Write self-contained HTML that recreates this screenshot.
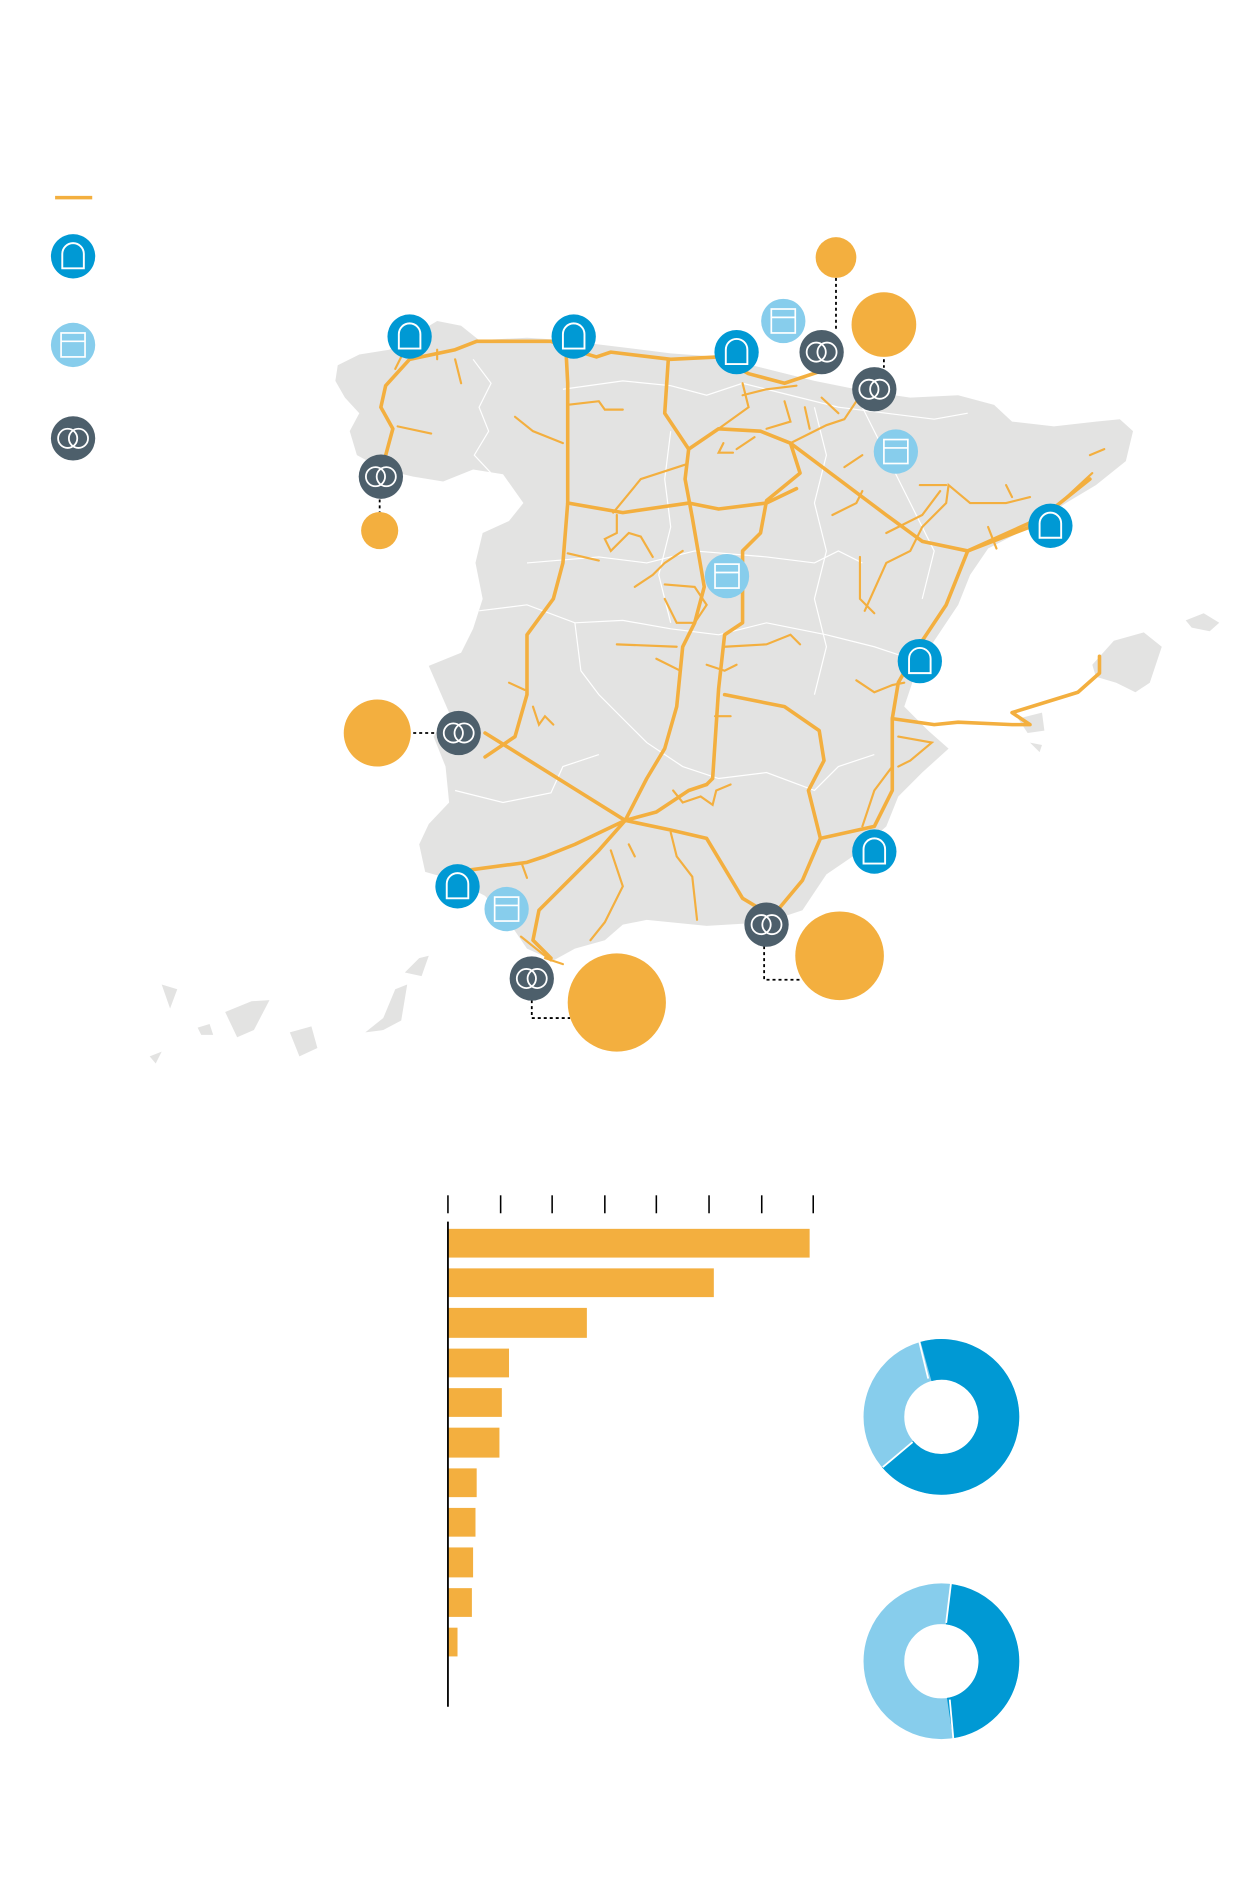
<!DOCTYPE html>
<html><head><meta charset="utf-8"><style>html,body{margin:0;padding:0;background:#fff}svg{display:block}</style></head>
<body>
<svg width="1248" height="1878" viewBox="0 0 1042 1568" preserveAspectRatio="none" xmlns="http://www.w3.org/2000/svg">
<defs>
<g id="arch"><path d="M-9,10 V-2 A9,9 0 0 1 9,-2 V10 Z" fill="none" stroke="#fff" stroke-width="1.6"/></g>
<g id="box"><rect x="-10" y="-10" width="20" height="20" fill="none" stroke="#fff" stroke-width="1.4"/><line x1="-10" y1="-3" x2="10" y2="-3" stroke="#fff" stroke-width="1.4"/></g>
<g id="rings"><circle cx="-4.5" cy="0" r="8" fill="none" stroke="#fff" stroke-width="1.5"/><circle cx="4.5" cy="0" r="8" fill="none" stroke="#fff" stroke-width="1.5"/></g>
</defs>
<line x1="46" y1="165" x2="77" y2="165" stroke="#f3af3f" stroke-width="3"/>
<circle cx="61" cy="214" r="18.5" fill="#0099d4"/><use href="#arch" x="61" y="214"/>
<circle cx="61" cy="288" r="18.5" fill="#87cdec"/><use href="#box" x="61" y="288"/>
<circle cx="61" cy="366" r="18.5" fill="#4d5f6b"/><use href="#rings" x="61" y="366"/>

<path fill="#e3e3e2" d="M282,305 L300,296 L325,292 L345,280 L365,268 L385,272 L400,284 L440,282 L470,284 L520,290 L560,295 L600,298 L640,308 L680,318 L720,326 L760,332 L800,330 L830,338 L845,352 L880,356 L915,352 L935,350 L946,360 L940,385 L915,405 L890,420 L860,440 L825,458 L810,480 L800,505 L780,535 L765,560 L755,590 L775,610 L792,625 L770,645 L750,665 L740,690 L712,715 L690,730 L670,760 L640,770 L590,773 L540,768 L520,772 L505,785 L480,792 L462,802 L440,792 L425,770 L405,748 L380,735 L355,728 L350,705 L358,688 L375,670 L372,640 L362,615 L375,595 L358,556 L385,545 L395,525 L403,500 L397,470 L403,445 L425,435 L437,420 L420,396 L395,392 L370,402 L345,398 L320,392 L298,380 L292,360 L300,345 L288,332 L280,318 Z"/>
<path fill="#e3e3e2" d="M912,555 L930,535 L955,528 L970,540 L960,570 L948,578 L932,570 L915,565 Z M850,600 L870,595 L872,610 L858,612 Z M860,620 L870,622 L868,628 Z M990,518 L1005,512 L1018,520 L1010,527 L995,524 Z"/>
<path fill="#e3e3e2" d="M135,822 L148,826 L142,842 Z M165,858 L175,855 L178,864 L168,864 Z M188,845 L210,836 L225,835 L212,860 L198,866 Z M242,862 L260,857 L265,875 L250,882 Z M305,862 L320,850 L330,826 L340,822 L335,852 L320,860 Z M338,812 L350,800 L358,798 L352,815 Z M125,882 L135,878 L130,888 Z"/>
<g fill="none" stroke="#fff" stroke-width="1">
<path d="M470,325 L520,318 L560,322 L590,330 L620,320 L660,330 L700,340 L740,345 L780,350 L808,345"/>
<path d="M395,300 L410,320 L400,340 L408,360 L396,380 L410,395"/>
<path d="M440,470 L500,465 L540,470 L580,460 L640,465 L680,470 L700,460 L720,470"/>
<path d="M400,510 L440,505 L480,520 L520,518 L560,525 L600,530 L640,520 L690,530 L730,540 L760,550"/>
<path d="M480,520 L485,560 L500,580 L520,600 L540,620 L570,640 L600,650 L640,645 L680,660 L700,640 L730,630"/>
<path d="M560,360 L555,400 L560,440 L550,480 L560,520"/>
<path d="M680,340 L690,380 L680,420 L690,460 L680,500 L690,540 L680,580"/>
<path d="M380,660 L420,670 L460,662 L470,640 L500,630"/>
<path d="M720,340 L740,380 L760,420 L780,460 L770,500"/>
</g>
<g fill="none" stroke="#f3af3f" stroke-width="3" stroke-linejoin="round" stroke-linecap="round">
<path d="M318,395 L328,358 L318,340 L322,322 L342,300 L380,292 L398,285 L460,285 L478,292 L498,298 L510,294 L560,300 L600,298 L625,312 L655,320 L685,310"/>
<path d="M472,282 L474,320 L474,420 L470,470 L462,500 L440,530 L440,580 L430,615 L405,632"/>
<path d="M405,612 L522,685 L548,678 L575,660 L590,655"/>
<path d="M522,685 L540,650 L555,625 L565,590 L570,540 L580,520 L588,490 L578,432 L572,400 L575,375 L600,358 L635,360 L660,370 L668,395 L640,418 L635,445 L620,460 L620,520 L605,530 L600,575 L595,650 L590,655"/>
<path d="M522,685 L480,705 L455,715 L440,720 L380,728"/>
<path d="M522,685 L500,710 L475,735 L450,760 L445,785 L460,800"/>
<path d="M522,685 L560,693 L590,700 L620,750 L645,765 L670,735 L685,700 L730,690 L745,660 L745,600 L750,570 L770,535 L790,505 L808,460 L860,440"/>
<path d="M685,700 L675,660 L688,635 L684,610 L655,590 L605,580"/>
<path d="M660,370 L700,400 L740,430 L770,452 L808,460 L870,432 L910,400"/>
<path d="M575,375 L555,345 L558,300"/>
<path d="M474,420 L520,428 L575,420 L600,425 L640,420 L665,408"/>
<path d="M745,600 L780,605 L800,603 L845,605 L860,605 L845,595 L900,578 L918,562 L918,548"/>
</g>
<g fill="none" stroke="#f3af3f" stroke-width="1.8" stroke-linecap="round">
<path d="M332,356 L360,362"/><path d="M430,348 L445,360 L470,370"/><path d="M474,338 L500,335 L505,342 L520,342"/>
<path d="M474,462 L500,468"/><path d="M512,428 L535,400 L572,388"/><path d="M515,430 L515,445 L505,450 L510,460 L525,445 L535,448 L545,465"/>
<path d="M530,490 L545,480 L555,470 L570,460"/><path d="M555,488 L580,490 L590,505 L580,520 L565,520 L555,500"/>
<path d="M515,538 L565,540"/><path d="M548,550 L568,560"/><path d="M605,540 L640,538 L660,530 L668,538"/>
<path d="M590,555 L605,560 L615,555"/><path d="M425,570 L438,576"/><path d="M445,590 L450,605 L455,598 L462,605"/>
<path d="M597,598 L610,598"/><path d="M562,660 L570,670 L585,665 L595,672 L598,660 L610,655"/>
<path d="M510,710 L520,740 L505,770 L493,785"/><path d="M560,695 L565,715 L578,732 L582,768"/><path d="M525,705 L530,715"/>
<path d="M718,465 L718,500 L730,512"/><path d="M722,510 L740,470 L760,460 L770,440 L790,420 L792,405 L810,420 L840,420 L860,415"/>
<path d="M740,445 L770,430 L785,410"/><path d="M695,430 L715,420 L720,410"/><path d="M705,390 L720,380"/>
<path d="M660,370 L690,355 L705,350 L715,335 L730,325"/><path d="M640,358 L660,352 L655,335"/><path d="M600,358 L625,340 L620,320"/>
<path d="M620,330 L640,325 L665,322"/><path d="M686,332 L700,345"/><path d="M672,340 L676,358"/>
<path d="M715,568 L730,578 L745,572 L755,570"/><path d="M750,615 L778,620 L760,635 L750,640"/>
<path d="M745,640 L730,660 L720,690"/><path d="M825,440 L832,458"/><path d="M910,380 L922,375"/>
<path d="M885,420 L912,395"/><path d="M840,405 L845,415"/><path d="M768,405 L790,405"/>
<path d="M604,370 L600,378 L612,378"/><path d="M615,375 L630,365"/><path d="M596,470 L610,485"/>
<path d="M380,300 L385,320"/><path d="M335,298 L330,308"/><path d="M365,300 L365,292"/>
<path d="M435,782 L460,802"/><path d="M455,800 L470,805"/><path d="M436,722 L440,733"/>
</g>
<g stroke="#000" stroke-width="1.5" stroke-dasharray="2.5,2.5" fill="none">
<path d="M317,417 L317,428"/><path d="M345,612 L365,612"/><path d="M698,232 L698,275"/><path d="M738,290 L738,307"/>
<path d="M638,790 L638,818 L668,818"/><path d="M444,835 L444,850 L476,850"/>
</g>
<g fill="#f3af3f">
<circle cx="317" cy="443" r="15.5"/><circle cx="315" cy="612" r="28"/><circle cx="698" cy="215" r="17"/><circle cx="738" cy="271" r="27"/>
<circle cx="701" cy="798" r="37"/><circle cx="515" cy="837" r="41"/>
</g>
<g>
<circle cx="342" cy="281" r="18.5" fill="#0099d4"/><use href="#arch" x="342" y="281"/>
<circle cx="479" cy="281" r="18.5" fill="#0099d4"/><use href="#arch" x="479" y="281"/>
<circle cx="615" cy="294" r="18.5" fill="#0099d4"/><use href="#arch" x="615" y="294"/>
<circle cx="877" cy="439" r="18.5" fill="#0099d4"/><use href="#arch" x="877" y="439"/>
<circle cx="768" cy="552" r="18.5" fill="#0099d4"/><use href="#arch" x="768" y="552"/>
<circle cx="730" cy="711" r="18.5" fill="#0099d4"/><use href="#arch" x="730" y="711"/>
<circle cx="382" cy="740" r="18.5" fill="#0099d4"/><use href="#arch" x="382" y="740"/>
<circle cx="654" cy="268" r="18.5" fill="#87cdec"/><use href="#box" x="654" y="268"/>
<circle cx="748" cy="377" r="18.5" fill="#87cdec"/><use href="#box" x="748" y="377"/>
<circle cx="607" cy="481" r="18.5" fill="#87cdec"/><use href="#box" x="607" y="481"/>
<circle cx="423" cy="759" r="18.5" fill="#87cdec"/><use href="#box" x="423" y="759"/>
<circle cx="318" cy="398" r="18.5" fill="#4d5f6b"/><use href="#rings" x="318" y="398"/>
<circle cx="686" cy="294" r="18.5" fill="#4d5f6b"/><use href="#rings" x="686" y="294"/>
<circle cx="730" cy="325" r="18.5" fill="#4d5f6b"/><use href="#rings" x="730" y="325"/>
<circle cx="383" cy="612" r="18.5" fill="#4d5f6b"/><use href="#rings" x="383" y="612"/>
<circle cx="640" cy="772" r="18.5" fill="#4d5f6b"/><use href="#rings" x="640" y="772"/>
<circle cx="444" cy="817" r="18.5" fill="#4d5f6b"/><use href="#rings" x="444" y="817"/>
</g>
<g stroke="#000" stroke-width="1.3">
<line x1="374" y1="998" x2="374" y2="1013"/><line x1="418" y1="998" x2="418" y2="1013"/><line x1="461" y1="998" x2="461" y2="1013"/>
<line x1="505" y1="998" x2="505" y2="1013"/><line x1="548" y1="998" x2="548" y2="1013"/><line x1="592" y1="998" x2="592" y2="1013"/>
<line x1="636" y1="998" x2="636" y2="1013"/><line x1="679" y1="998" x2="679" y2="1013"/>
</g>
<g fill="#f3af3f">
<rect x="374" y="1026" width="302" height="24"/><rect x="374" y="1059" width="222" height="24"/><rect x="374" y="1092" width="116" height="25"/>
<rect x="374" y="1126" width="51" height="24"/><rect x="374" y="1159" width="45" height="24"/><rect x="374" y="1192" width="43" height="25"/>
<rect x="374" y="1226" width="24" height="24"/><rect x="374" y="1259" width="23" height="24"/><rect x="374" y="1292" width="21" height="25"/>
<rect x="374" y="1326" width="20" height="24"/><rect x="374" y="1359" width="8" height="24"/>
</g>
<line x1="374" y1="1020" x2="374" y2="1425" stroke="#000" stroke-width="1.5"/>
<circle cx="786" cy="1183" r="48" fill="none" stroke="#87cdec" stroke-width="34"/>
<circle cx="786" cy="1183" r="48" fill="none" stroke="#0099d4" stroke-width="34" stroke-dasharray="205.3 400" transform="rotate(-105.5 786 1183)"/>
<circle cx="786" cy="1387" r="48" fill="none" stroke="#87cdec" stroke-width="34"/>
<circle cx="786" cy="1387" r="48" fill="none" stroke="#0099d4" stroke-width="34" stroke-dasharray="137.6 400" transform="rotate(-83 786 1387)"/>
<g stroke="#fff" stroke-width="1.5">
<line x1="775" y1="1151" x2="767" y2="1118"/><line x1="762" y1="1204" x2="737" y2="1225"/>
<line x1="790" y1="1355" x2="794" y2="1322"/><line x1="793" y1="1419" x2="796" y2="1452"/>
</g>
</svg>
</body></html>
